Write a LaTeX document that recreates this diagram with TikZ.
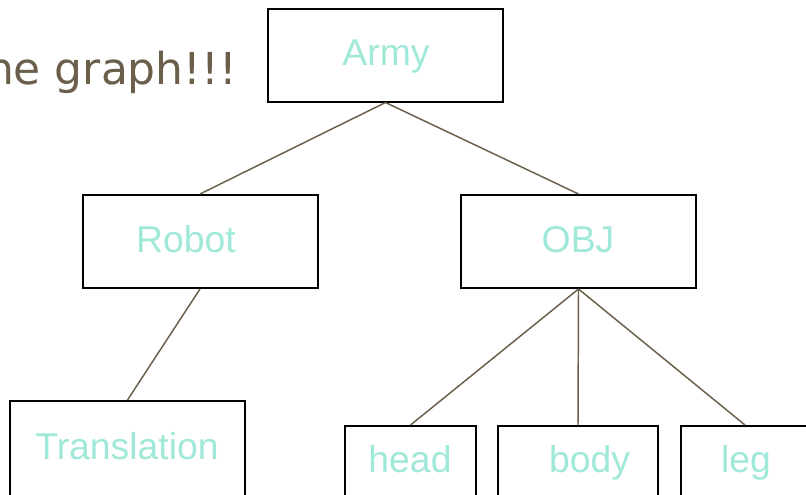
\documentclass[tikz,border=0pt]{standalone}
\usepackage{fontspec}
\setmainfont{Liberation Sans}
\newfontfamily\titlefont{DejaVu Sans}
\definecolor{labelaqua}{RGB}{160,232,216}
\definecolor{linkbrown}{RGB}{107,95,75}
\begin{document}
\begin{tikzpicture}[x=0.75pt,y=-0.75pt,
  box/.style={draw=black,line width=1.5pt,rectangle,inner sep=0pt,fill=white},
  lbl/.style={anchor=base,text=labelaqua,font=\fontsize{28pt}{31pt}\selectfont,inner sep=0pt},
  link/.style={draw=linkbrown,line width=1.1pt}]
\clip (0,0) rectangle (806,494);
\fill[white] (0,0) rectangle (806,494);

% title fragment, running off the left edge
\node[anchor=base east,inner sep=0pt,text=linkbrown,font=\titlefont\fontsize{33pt}{37pt}\selectfont] (title) at (237,84) {ne graph!!!};

% boxes
\node[box,minimum width=176.25pt,minimum height=69.75pt] (army) at (385.5,55) {};
\node[box,minimum width=176.25pt,minimum height=69.75pt] (robot) at (200,241.5) {};
\node[box,minimum width=176.25pt,minimum height=69.75pt] (obj) at (578.5,241.5) {};
\node[box,minimum width=176.25pt,minimum height=90pt] (trans) at (127.5,461) {};
\node[box,minimum width=98.25pt,minimum height=90pt] (head) at (410.5,486) {};
\node[box,minimum width=120pt,minimum height=90pt] (body) at (578,486) {};
\node[box,minimum width=96pt,minimum height=90pt] (leg) at (745,486) {};

% labels
\node[lbl] (armyt) at (386,65) {Army};
\node[lbl] (robott) at (186,252) {Robot};
\node[lbl] (objt) at (578,252) {OBJ};
\node[lbl] (transt) at (127,459) {Translation};
\node[lbl] (headt) at (410,472) {head};
\node[lbl] (bodyt) at (589.5,472) {body};
\node[lbl] (legt) at (746,472) {leg};

% connectors
\draw[link] (army.south) -- (robot.north);
\draw[link] (army.south) -- (obj.north);
\draw[link] (robot.south) -- (trans.north);
\draw[link] (obj.south) -- (head.north);
\draw[link] (obj.south) -- (body.north);
\draw[link] (obj.south) -- (leg.north);
\end{tikzpicture}
\end{document}
